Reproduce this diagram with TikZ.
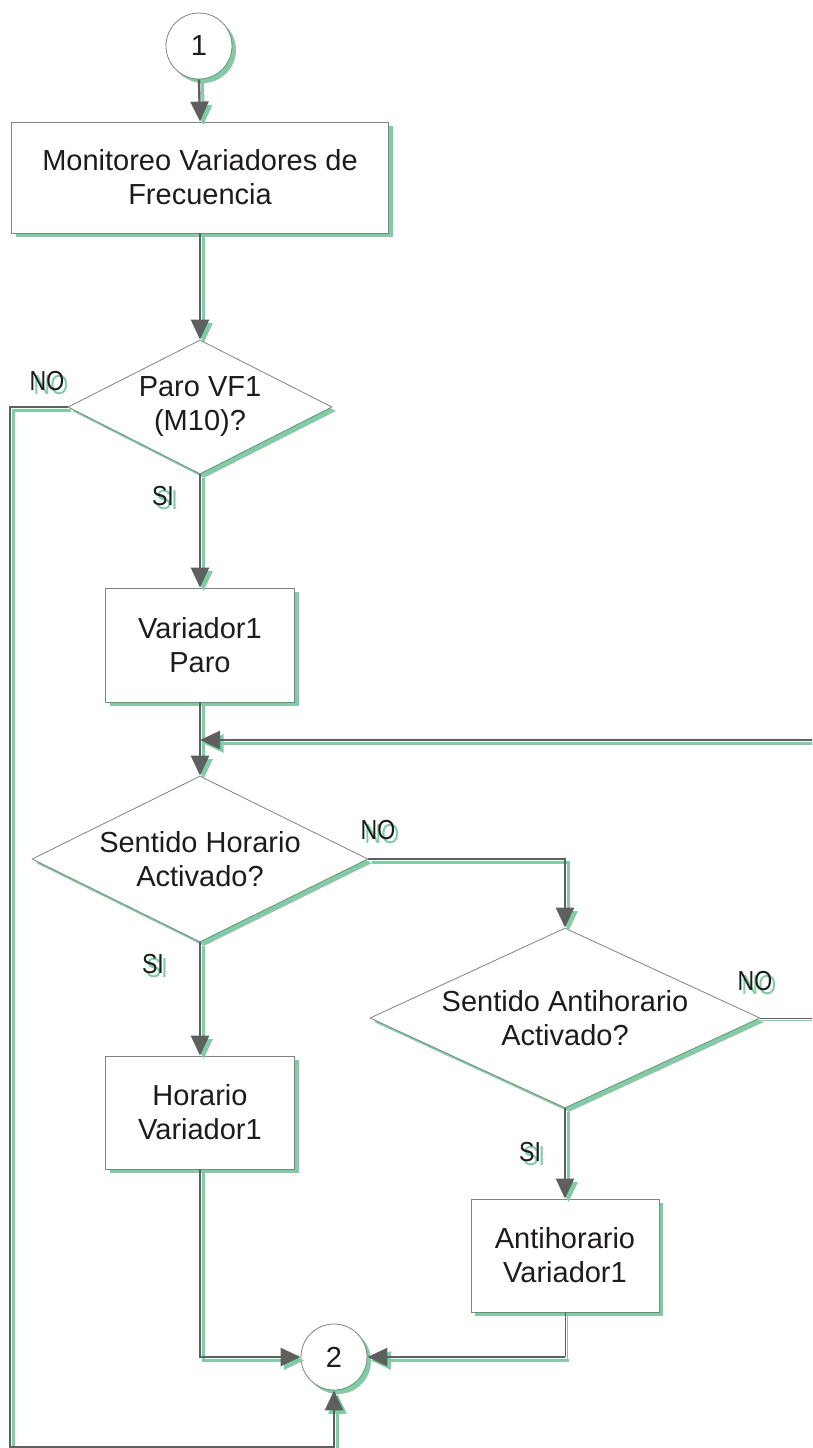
\documentclass[tikz,border=0pt]{standalone}
\usepackage{fontspec}
\usepackage{graphicx}
\setmainfont{Liberation Sans}
\usetikzlibrary{shapes.geometric,arrows.meta,shadows}

\definecolor{shade}{RGB}{128,204,164}
\definecolor{wire}{RGB}{95,95,95}
\definecolor{rim}{RGB}{130,130,130}
\definecolor{ink}{RGB}{30,27,28}

% condensed branch labels
\newcommand\narrowtag[1]{\scalebox{0.84}[1]{#1}}

\tikzset{
  chart/.style={draw=rim, line width=0.8pt, fill=white, text=ink, align=center,
    inner sep=0pt, font=\fontsize{29}{34}\selectfont,
    drop shadow={shadow xshift=4pt, shadow yshift=-4pt, fill=shade, opacity=1}},
  procbox/.style={chart, rectangle},
  decision/.style={chart, diamond, aspect=2.1},
  joint/.style={chart, circle, minimum size=66pt},
  tag/.style={text=ink, inner sep=0pt, font=\fontsize{27.5}{30}\selectfont},
  tagshade/.style={tag, text=shade},
  flow/.style={draw=wire, line width=2.4pt},
  flowshade/.style={draw=shade, line width=3pt, transform canvas={xshift=3.5pt, yshift=-3.5pt}},
  slim/.style={draw=wire, line width=1pt},
  slimshade/.style={draw=shade, line width=1pt, transform canvas={xshift=2pt, yshift=-2pt}},
  tip/.style={-{Triangle[length=20pt,width=18pt]}},
}

\begin{document}
\begin{tikzpicture}[x=1pt, y=-1pt]
\useasboundingbox (0,0) rectangle (812,1448);
\clip (0,0) rectangle (812,1448);

% free ends and bends of the connectors
\coordinate (merge) at (200,740);
\coordinate (loopin) at (830,740);
\coordinate (loopout) at (830,1018);
\coordinate (ld) at (10,1447);

% nodes
\node[joint] (c1) at (199,46) {1};
\node[procbox, minimum width=377pt, minimum height=111pt] (b1) at (200,177.5) {Monitoreo Variadores de\\Frecuencia};
\node[decision, minimum width=264pt, minimum height=134pt] (d1) at (200,407) {Paro VF1\\(M10)?};
\node[procbox, minimum width=189pt, minimum height=114pt] (b2) at (200,645) {Variador1\\Paro};
\node[decision, minimum width=336pt, minimum height=166pt] (d2) at (200,859) {Sentido Horario\\Activado?};
\node[procbox, minimum width=189pt, minimum height=113pt] (b3) at (200,1112.5) {Horario\\Variador1};
\node[decision, minimum width=390pt, minimum height=180pt] (d3) at (565,1018) {Sentido Antihorario\\Activado?};
\node[procbox, minimum width=188pt, minimum height=113pt] (b4) at (565,1255.5) {Antihorario\\Variador1};
\node[joint] (c2) at (334,1357) {2};

\coordinate (k) at (b4.south |- c2.east);

% shadow copies of the connectors
\draw[flowshade, tip] (c1.south) -- (b1.north);
\draw[flowshade, tip] (b1.south) -- (d1.north);
\draw[flowshade, tip] (d1.south) -- (b2.north);
\draw[flowshade, tip] (b2.south) -- (d2.north);
\draw[flowshade, tip] (loopin) -- (merge);
\draw[flowshade, tip] (d2.east) -| (d3.north);
\draw[flowshade, tip] (d2.south) -- (b3.north);
\draw[flowshade, tip] (d3.south) -- (b4.north);
\draw[slimshade] (d3.east) -- (loopout);
\draw[flowshade, tip] (b3.south) |- (c2.west);
\draw[slimshade] (b4.south) -- (k);
\draw[flowshade, tip] (k) -- (c2.east);
\draw[flowshade, tip] (d1.west) -| (ld) -| (c2.south);

% connectors
\draw[flow, tip] (c1.south) -- (b1.north);
\draw[flow, tip] (b1.south) -- (d1.north);
\draw[flow, tip] (d1.south) -- (b2.north);
\draw[flow, tip] (b2.south) -- (d2.north);
\draw[flow, tip] (loopin) -- (merge);
\draw[flow, tip] (d2.east) -| (d3.north);
\draw[flow, tip] (d2.south) -- (b3.north);
\draw[flow, tip] (d3.south) -- (b4.north);
\draw[slim] (d3.east) -- (loopout);
\draw[flow, tip] (b3.south) |- (c2.west);
\draw[slim] (b4.south) -- (k);
\draw[flow, tip] (k) -- (c2.east);
\draw[flow, tip] (d1.west) -| (ld) -| (c2.south);

% branch labels with their green copies
\node[tagshade] (no1s) at (51,385) {\narrowtag{NO}};
\node[tag] (no1) at (47,381) {\narrowtag{NO}};
\node[tagshade] (si1s) at (167,500) {\narrowtag{SI}};
\node[tag] (si1) at (163,496) {\narrowtag{SI}};
\node[tagshade] (no2s) at (382,834) {\narrowtag{NO}};
\node[tag] (no2) at (378,830) {\narrowtag{NO}};
\node[tagshade] (si2s) at (157,968) {\narrowtag{SI}};
\node[tag] (si2) at (153,964) {\narrowtag{SI}};
\node[tagshade] (no3s) at (759,985) {\narrowtag{NO}};
\node[tag] (no3) at (755,981) {\narrowtag{NO}};
\node[tagshade] (si3s) at (534,1156) {\narrowtag{SI}};
\node[tag] (si3) at (530,1152) {\narrowtag{SI}};
\end{tikzpicture}
\end{document}
